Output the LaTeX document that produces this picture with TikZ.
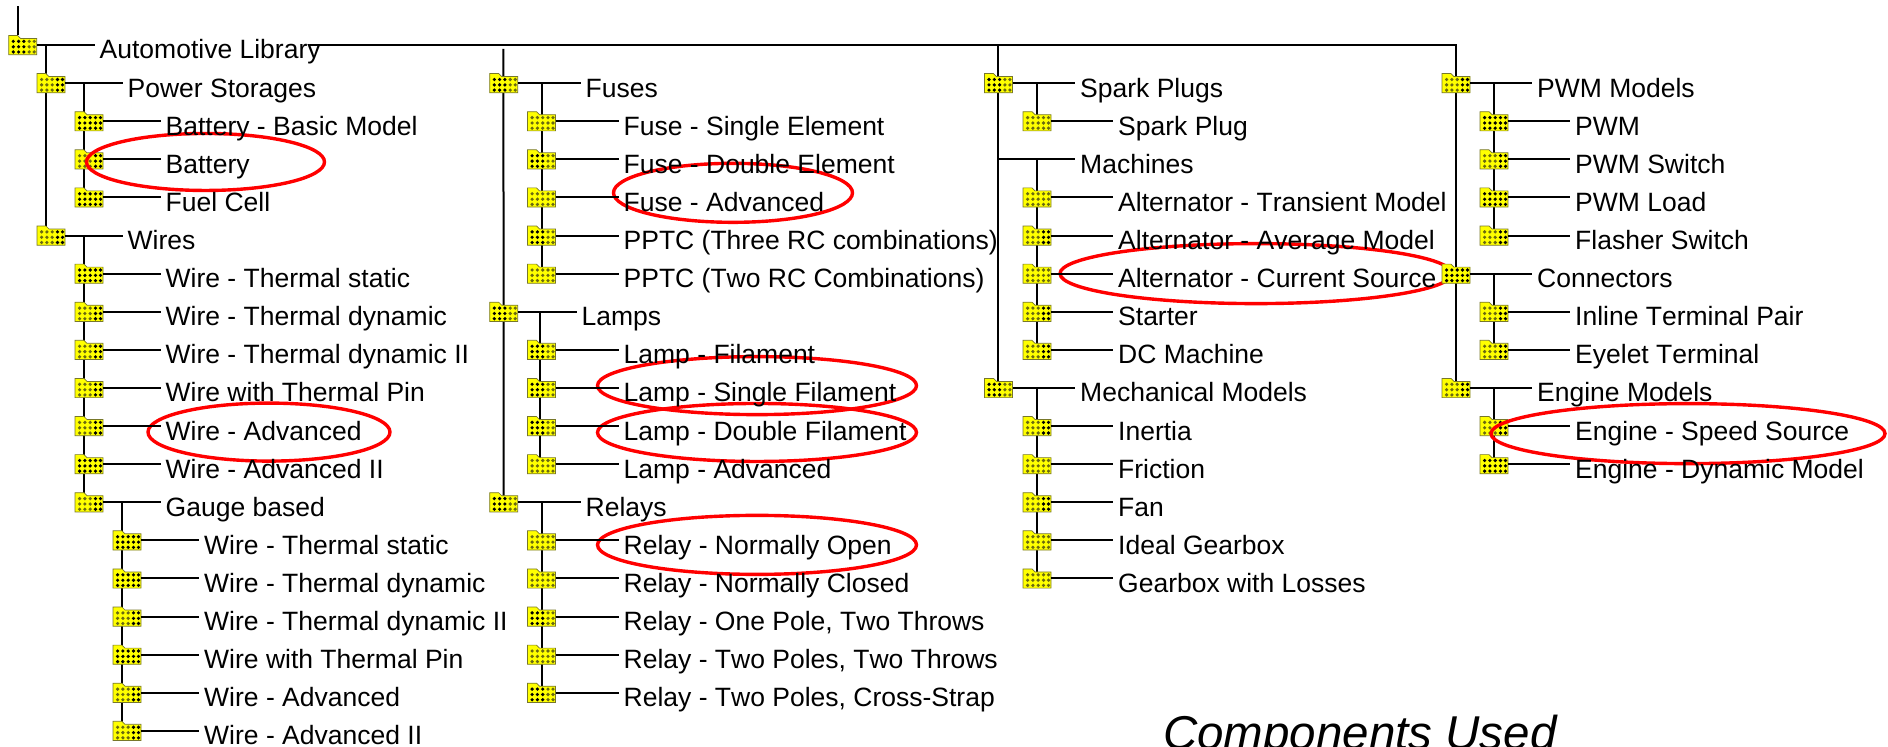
\documentclass[tikz,border=0pt]{standalone}
\usepackage{fontspec}
\setmainfont[Kerning=Off]{Liberation Sans}
\usetikzlibrary{backgrounds}
\definecolor{folderyellow}{HTML}{FFFF00}
\definecolor{folderedge}{HTML}{77772A}
\definecolor{dimdot}{HTML}{6A6A10}
\definecolor{darkdot}{HTML}{000000}
\definecolor{ringred}{HTML}{FF0000}
\tikzset{
  treeline/.style={black,line width=2pt},
  ring/.style={draw=ringred,line width=3.4pt},
  folderbox/.style={inner sep=0pt,minimum width=28pt,minimum height=19.5pt},
  itemtext/.style={anchor=base west,inner ysep=0pt,inner xsep=5pt,yshift=-14pt,font=\fontsize{26.5}{30}\selectfont},
  captiontext/.style={anchor=base west,inner sep=0pt,font=\fontsize{47.5}{52}\selectfont\itshape}
}
\newcommand{\folder}[5]{
  \begin{scope}[shift={(#2,#3)}]
    \filldraw[fill=folderyellow,draw=folderedge,line width=0.7pt] (-14pt,9.5pt) -- (-14pt,-9.7pt) -- (14pt,-9.7pt) -- (14pt,6.5pt) -- (-2pt,6.5pt) -- (-5pt,9.5pt) -- cycle;
    \foreach \ypos in {3.6,-1.8,-7.0} {
      \foreach \xpos in {-9.4,-4.1,1.2} \fill[#4] (\xpos pt,\ypos pt) circle (1.8pt);
      \foreach \xpos in {6.5,11.5} \fill[#5] (\xpos pt,\ypos pt) circle (1.8pt);
    }
  \end{scope}
  \node[folderbox] (#1) at (#2,#3) {};
}
\begin{document}
\begin{tikzpicture}[x=1pt,y=-38.1pt]
\useasboundingbox (0,-1.181) rectangle (1888,18.425);

\folder{froot}{22.7}{0}{darkdot}{dimdot}
\folder{fstorage}{51}{1}{dimdot}{darkdot}
\folder{fbasic}{89}{2}{darkdot}{darkdot}
\folder{fbattery}{89}{3}{dimdot}{darkdot}
\folder{ffuel}{89}{4}{darkdot}{darkdot}
\folder{fwires}{51}{5}{dimdot}{darkdot}
\folder{fstatic}{89}{6}{darkdot}{darkdot}
\folder{fdynamic}{89}{7}{dimdot}{darkdot}
\folder{fdynamicb}{89}{8}{dimdot}{darkdot}
\folder{fpin}{89}{9}{dimdot}{darkdot}
\folder{fadvanced}{89}{10}{dimdot}{darkdot}
\folder{fadvancedb}{89}{11}{darkdot}{darkdot}
\folder{fgauge}{89}{12}{dimdot}{darkdot}
\folder{fgstatic}{127}{13}{darkdot}{darkdot}
\folder{fgdynamic}{127}{14}{darkdot}{darkdot}
\folder{fgdynamicb}{127}{15}{dimdot}{darkdot}
\folder{fgpin}{127}{16}{darkdot}{darkdot}
\folder{fgadvanced}{127}{17}{dimdot}{darkdot}
\folder{fgadvancedb}{127}{18}{dimdot}{darkdot}

\folder{ffuses}{503.7}{1}{darkdot}{dimdot}
\folder{fsingle}{541.5}{2}{dimdot}{dimdot}
\folder{fdouble}{541.5}{3}{darkdot}{dimdot}
\folder{ffuseadv}{541.5}{4}{dimdot}{dimdot}
\folder{fthree}{541.5}{5}{darkdot}{dimdot}
\folder{ftwo}{541.5}{6}{dimdot}{dimdot}
\folder{flamps}{503.7}{7}{darkdot}{dimdot}
\folder{ffilament}{541.5}{8}{darkdot}{dimdot}
\folder{flampone}{541.5}{9}{darkdot}{dimdot}
\folder{flamptwo}{541.5}{10}{darkdot}{dimdot}
\folder{flampadv}{541.5}{11}{dimdot}{dimdot}
\folder{frelays}{503.7}{12}{darkdot}{dimdot}
\folder{fopen}{541.5}{13}{dimdot}{dimdot}
\folder{fclosed}{541.5}{14}{dimdot}{dimdot}
\folder{fthrows}{541.5}{15}{darkdot}{dimdot}
\folder{fpoles}{541.5}{16}{dimdot}{dimdot}
\folder{fstrap}{541.5}{17}{darkdot}{dimdot}

\folder{fspark}{998.4}{1}{darkdot}{dimdot}
\folder{fplug}{1037}{2}{dimdot}{dimdot}
\folder{ftransient}{1037}{4}{dimdot}{dimdot}
\folder{faverage}{1037}{5}{dimdot}{darkdot}
\folder{fcurrent}{1037}{6}{dimdot}{dimdot}
\folder{fstarter}{1037}{7}{dimdot}{darkdot}
\folder{fdc}{1037}{8}{dimdot}{darkdot}
\folder{fmech}{998.4}{9}{darkdot}{dimdot}
\folder{finertia}{1037}{10}{dimdot}{darkdot}
\folder{ffriction}{1037}{11}{dimdot}{dimdot}
\folder{ffan}{1037}{12}{dimdot}{darkdot}
\folder{fgearbox}{1037}{13}{dimdot}{dimdot}
\folder{flosses}{1037}{14}{dimdot}{dimdot}

\folder{fmodels}{1456}{1}{dimdot}{darkdot}
\folder{fpwm}{1494}{2}{darkdot}{darkdot}
\folder{fswitch}{1494}{3}{dimdot}{darkdot}
\folder{fload}{1494}{4}{darkdot}{darkdot}
\folder{fflasher}{1494}{5}{dimdot}{darkdot}
\folder{finline}{1494}{7}{dimdot}{darkdot}
\folder{feyelet}{1494}{8}{dimdot}{darkdot}
\folder{fengine}{1456}{9}{dimdot}{darkdot}
\folder{fspeed}{1494}{10}{dimdot}{darkdot}
\folder{fmodel}{1494}{11}{darkdot}{darkdot}

\draw[ring] (205.5,3.07) ellipse [x radius=119pt,y radius=28.5pt];
\draw[ring] (269,10.16) ellipse [x radius=121pt,y radius=29pt];
\draw[ring] (733,3.88) ellipse [x radius=119.5pt,y radius=29.5pt];
\draw[ring] (757,8.94) ellipse [x radius=159.5pt,y radius=29pt];
\draw[ring] (757,10.17) ellipse [x radius=159.5pt,y radius=29pt];
\draw[ring] (757,13.12) ellipse [x radius=159.5pt,y radius=29.5pt];
\draw[ring] (1256,6.0) ellipse [x radius=196pt,y radius=30pt];
\draw[ring] (1688,10.2) ellipse [x radius=197pt,y radius=30pt];

\folder{fconnectors}{1456}{6}{darkdot}{darkdot}

\node[itemtext] (troot) at (94.5,0) {Automotive Library};
\node[itemtext] (tstorage) at (122.5,1) {Power Storages};
\node[itemtext] (tbasic) at (160.5,2) {Battery - Basic Model};
\node[itemtext] (tbattery) at (160.5,3) {Battery};
\node[itemtext] (tfuel) at (160.5,4) {Fuel Cell};
\node[itemtext] (twires) at (122.5,5) {Wires};
\node[itemtext] (tstatic) at (160.5,6) {Wire - Thermal static};
\node[itemtext] (tdynamic) at (160.5,7) {Wire - Thermal dynamic};
\node[itemtext] (tdynamicb) at (160.5,8) {Wire - Thermal dynamic II};
\node[itemtext] (tpin) at (160.5,9) {Wire with Thermal Pin};
\node[itemtext] (tadvanced) at (160.5,10) {Wire - Advanced};
\node[itemtext] (tadvancedb) at (160.5,11) {Wire - Advanced II};
\node[itemtext] (tgauge) at (160.5,12) {Gauge based};
\node[itemtext] (tgstatic) at (199,13) {Wire - Thermal static};
\node[itemtext] (tgdynamic) at (199,14) {Wire - Thermal dynamic};
\node[itemtext] (tgdynamicb) at (199,15) {Wire - Thermal dynamic II};
\node[itemtext] (tgpin) at (199,16) {Wire with Thermal Pin};
\node[itemtext] (tgadvanced) at (199,17) {Wire - Advanced};
\node[itemtext] (tgadvancedb) at (199,18) {Wire - Advanced II};

\node[itemtext] (tfuses) at (580.5,1) {Fuses};
\node[itemtext] (tsingle) at (618.5,2) {Fuse - Single Element};
\node[itemtext] (tdouble) at (618.5,3) {Fuse - Double Element};
\node[itemtext] (tfuseadv) at (618.5,4) {Fuse - Advanced};
\node[itemtext] (tthree) at (618.5,5) {PPTC (Three RC combinations)};
\node[itemtext] (ttwo) at (618.5,6) {PPTC (Two RC Combinations)};
\node[itemtext] (tlamps) at (576.5,7) {Lamps};
\node[itemtext] (tfilament) at (618.5,8) {Lamp - Filament};
\node[itemtext] (tlampone) at (618.5,9) {Lamp - Single Filament};
\node[itemtext] (tlamptwo) at (618.5,10) {Lamp - Double Filament};
\node[itemtext] (tlampadv) at (618.5,11) {Lamp - Advanced};
\node[itemtext] (trelays) at (580.5,12) {Relays};
\node[itemtext] (topen) at (618.5,13) {Relay - Normally Open};
\node[itemtext] (tclosed) at (618.5,14) {Relay - Normally Closed};
\node[itemtext] (tthrows) at (618.5,15) {Relay - One Pole, Two Throws};
\node[itemtext] (tpoles) at (618.5,16) {Relay - Two Poles, Two Throws};
\node[itemtext] (tstrap) at (618.5,17) {Relay - Two Poles, Cross-Strap};

\node[itemtext] (tspark) at (1075,1) {Spark Plugs};
\node[itemtext] (tplug) at (1113,2) {Spark Plug};
\node[itemtext] (tmachines) at (1075,3) {Machines};
\node[itemtext] (ttransient) at (1113,4) {Alternator - Transient Model};
\node[itemtext] (taverage) at (1113,5) {Alternator - Average Model};
\node[itemtext] (tcurrent) at (1113,6) {Alternator - Current Source};
\node[itemtext] (tstarter) at (1113,7) {Starter};
\node[itemtext] (tdc) at (1113,8) {DC Machine};
\node[itemtext] (tmech) at (1075,9) {Mechanical Models};
\node[itemtext] (tinertia) at (1113,10) {Inertia};
\node[itemtext] (tfriction) at (1113,11) {Friction};
\node[itemtext] (tfan) at (1113,12) {Fan};
\node[itemtext] (tgearbox) at (1113,13) {Ideal Gearbox};
\node[itemtext] (tlosses) at (1113,14) {Gearbox with Losses};

\node[itemtext] (tmodels) at (1532,1) {PWM Models};
\node[itemtext] (tpwm) at (1570,2) {PWM};
\node[itemtext] (tswitch) at (1570,3) {PWM Switch};
\node[itemtext] (tload) at (1570,4) {PWM Load};
\node[itemtext] (tflasher) at (1570,5) {Flasher Switch};
\node[itemtext] (tconnectors) at (1532,6) {Connectors};
\node[itemtext] (tinline) at (1570,7) {Inline Terminal Pair};
\node[itemtext] (teyelet) at (1570,8) {Eyelet Terminal};
\node[itemtext] (tengine) at (1532,9) {Engine Models};
\node[itemtext] (tspeed) at (1570,10) {Engine - Speed Source};
\node[itemtext] (tmodel) at (1570,11) {Engine - Dynamic Model};

\node[captiontext] (tcaption) at (1163,18.5) {Components Used};

\coordinate (cfeed) at (17.7,-1.02);
\coordinate (cbus) at (310,0);
\coordinate (cfuses) at (503.4,0.1);
\coordinate (cmachines) at (998.4,3);

\foreach \n in {root,storage,basic,battery,fuel,wires,static,dynamic,dynamicb,pin,advanced,advancedb,gauge,gstatic,gdynamic,gdynamicb,gpin,gadvanced,gadvancedb,fuses,single,double,fuseadv,three,two,lamps,filament,lampone,lamptwo,lampadv,relays,open,closed,throws,poles,strap,spark,plug,transient,average,current,starter,dc,mech,inertia,friction,fan,gearbox,losses,models,pwm,switch,load,flasher,connectors,inline,eyelet,engine,speed,model}
  \draw[treeline] (f\n.east) -- (f\n.east -| t\n.west);
\draw[treeline] (cmachines) -- (cmachines -| tmachines.west);

\begin{scope}[on background layer]
\draw[treeline] (cfeed) -- (cfeed |- froot.north);
\draw[treeline] (cbus) -| (fengine.center);
\draw[treeline] (fspark.center |- cbus) -- (fmech.center);
\draw[treeline] (cfuses) -- (frelays.center);
\draw[treeline] ([xshift=-5pt]fstorage.center |- froot.east) -- ([xshift=-5pt]fwires.center);
\draw[treeline] ([xshift=-5pt]fbasic.center |- fstorage.east) -- ([xshift=-5pt]ffuel.center);
\draw[treeline] ([xshift=-5pt]fstatic.center |- fwires.east) -- ([xshift=-5pt]fgauge.center);
\draw[treeline] ([xshift=-5pt]fgstatic.center |- fgauge.east) -- ([xshift=-5pt]fgadvancedb.center);
\draw[treeline] (fsingle.center |- ffuses.east) -- (ftwo.center);
\draw[treeline] ([xshift=-2pt]ffilament.center |- flamps.east) -- ([xshift=-2pt]flampadv.center);
\draw[treeline] (fopen.center |- frelays.east) -- (fstrap.center);
\draw[treeline] (fplug.center |- fspark.east) -- (fplug.center);
\draw[treeline] (ftransient.center |- cmachines) -- (fdc.center);
\draw[treeline] (finertia.center |- fmech.east) -- (flosses.center);
\draw[treeline] (fpwm.center |- fmodels.east) -- (fflasher.center);
\draw[treeline] (finline.center |- fconnectors.east) -- (feyelet.center);
\draw[treeline] (fspeed.center |- fengine.east) -- (fmodel.center);
\end{scope}
\end{tikzpicture}
\end{document}
